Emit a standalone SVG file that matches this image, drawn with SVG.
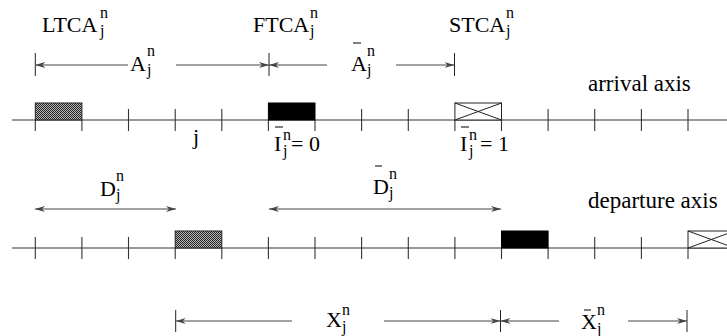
<svg xmlns="http://www.w3.org/2000/svg" width="727" height="336" viewBox="0 0 727 336">
<style>
text{font-family:"Liberation Serif","Times New Roman",serif;fill:#000}
.m{font-size:22px}
.ax{font-size:23px}
.s{font-size:16px}
.axis{stroke:#333;stroke-width:1.2;fill:none}
.tk{stroke:#333;stroke-width:1.1}
.bar{stroke:#222;stroke-width:1}
.ar{stroke:#444;stroke-width:1;fill:none;marker-end:url(#ah)}
.ar2{stroke:#444;stroke-width:1;fill:none;marker-end:url(#ah);marker-start:url(#ah)}
.ob{stroke:#000;stroke-width:1}
.hat{fill:url(#hp);stroke:#222;stroke-width:1}
.blk{fill:#000;stroke:#000;stroke-width:1}
.crs{fill:#fff;stroke:#222;stroke-width:1}
</style>
<defs>
<pattern id="hp" width="2" height="2" patternUnits="userSpaceOnUse">
<rect width="2" height="2" fill="#bbb"/>
<rect width="1" height="1" fill="#222"/>
<rect x="1" y="1" width="1" height="1" fill="#222"/>
</pattern>
<marker id="ah" viewBox="0 0 10 6" refX="10" refY="3" markerWidth="10" markerHeight="6" markerUnits="userSpaceOnUse" orient="auto-start-reverse">
<path d="M0,0 L10,3 L0,6 L3,3 z" fill="#444"/>
</marker>
</defs>

<g id="arrival-axis">
<line class="axis" x1="12" y1="120" x2="727" y2="120"/>
<g class="tk">
<line x1="128.5" y1="109" x2="128.5" y2="131"/>
<line x1="175.2" y1="109" x2="175.2" y2="131"/>
<line x1="221.8" y1="109" x2="221.8" y2="131"/>
<line x1="361.6" y1="109" x2="361.6" y2="131"/>
<line x1="408.3" y1="109" x2="408.3" y2="131"/>
<line x1="548.1" y1="109" x2="548.1" y2="131"/>
<line x1="594.7" y1="109" x2="594.7" y2="131"/>
<line x1="641.4" y1="109" x2="641.4" y2="131"/>
<line x1="688" y1="109" x2="688" y2="131"/>
<line x1="35.3" y1="120" x2="35.3" y2="131"/>
<line x1="81.9" y1="120" x2="81.9" y2="131"/>
<line x1="268.4" y1="120" x2="268.4" y2="131"/>
<line x1="315" y1="120" x2="315" y2="131"/>
<line x1="454.9" y1="120" x2="454.9" y2="131"/>
<line x1="501.5" y1="120" x2="501.5" y2="131"/>
</g>
<text class="ax" x="588" y="91">arrival axis</text>
<text class="m" x="193" y="144">j</text>
</g>

<g id="departure-axis">
<line class="axis" x1="12" y1="248" x2="727" y2="248"/>
<g class="tk">
<line x1="35.3" y1="237" x2="35.3" y2="259"/>
<line x1="81.9" y1="237" x2="81.9" y2="259"/>
<line x1="128.5" y1="237" x2="128.5" y2="259"/>
<line x1="268.4" y1="237" x2="268.4" y2="259"/>
<line x1="315" y1="237" x2="315" y2="259"/>
<line x1="361.6" y1="237" x2="361.6" y2="259"/>
<line x1="408.3" y1="237" x2="408.3" y2="259"/>
<line x1="454.9" y1="237" x2="454.9" y2="259"/>
<line x1="594.7" y1="237" x2="594.7" y2="259"/>
<line x1="641.4" y1="237" x2="641.4" y2="259"/>
<line x1="175.2" y1="248" x2="175.2" y2="259"/>
<line x1="221.8" y1="248" x2="221.8" y2="259"/>
<line x1="501.5" y1="248" x2="501.5" y2="259"/>
<line x1="548.1" y1="248" x2="548.1" y2="259"/>
<line x1="688" y1="248" x2="688" y2="259"/>
</g>
<text class="ax" x="588" y="208">departure axis</text>
</g>

<g id="ltca-arrival">
<rect class="hat" x="35.3" y="103" width="46.6" height="17"/>
<text class="m" x="42" y="32">LTCA<tspan class="s" x="100" y="17.5">n</tspan><tspan class="s" x="100" y="36">j</tspan></text>
</g>
<g id="ftca-arrival">
<rect class="blk" x="268.4" y="103" width="46.6" height="17"/>
<text class="m" x="253" y="32">FTCA<tspan class="s" x="310" y="17.5">n</tspan><tspan class="s" x="310" y="36">j</tspan></text>
<text class="m" x="274" y="151">I<tspan class="s" x="283" y="140">n</tspan><tspan class="s" x="283" y="156">j</tspan><tspan x="291" y="151">= 0</tspan></text>
<line class="ob" x1="275" y1="127" x2="283" y2="127"/>
</g>
<g id="stca-arrival">
<rect class="crs" x="454.9" y="103" width="46.6" height="17"/>
<path class="crs" d="M454.9,103 L501.5,120 M454.9,120 L501.5,103" fill="none"/>
<text class="m" x="449" y="32">STCA<tspan class="s" x="506" y="17.5">n</tspan><tspan class="s" x="506" y="36">j</tspan></text>
<text class="m" x="460" y="151">I<tspan class="s" x="469" y="140">n</tspan><tspan class="s" x="469" y="156">j</tspan><tspan x="480" y="151">= 1</tspan></text>
<line class="ob" x1="461" y1="127" x2="469" y2="127"/>
</g>

<g id="ltca-departure">
<rect class="hat" x="175.2" y="231" width="46.6" height="17"/>
</g>
<g id="ftca-departure">
<rect class="blk" x="501.5" y="231" width="46.6" height="17"/>
</g>
<g id="stca-departure">
<rect class="crs" x="688" y="231" width="46.6" height="17"/>
<path class="crs" d="M688,231 L734.6,248 M688,248 L734.6,231" fill="none"/>
</g>

<g id="connectors">
<g class="bar">
<line x1="35.3" y1="53" x2="35.3" y2="76"/>
<line x1="269" y1="53" x2="269" y2="76"/>
<line x1="454.5" y1="53" x2="454.5" y2="76"/>
<line x1="175.7" y1="310" x2="175.7" y2="332"/>
<line x1="500.5" y1="310" x2="500.5" y2="332"/>
<line x1="687" y1="310" x2="687" y2="332"/>
</g>
<line class="ar" x1="128" y1="65" x2="35.3" y2="65"/>
<line class="ar" x1="176" y1="65" x2="269" y2="65"/>
<line class="ar" x1="327" y1="65" x2="269" y2="65"/>
<line class="ar" x1="396" y1="65" x2="454.5" y2="65"/>
<line class="ar2" x1="35" y1="209" x2="176" y2="209"/>
<line class="ar2" x1="269" y1="209" x2="501" y2="209"/>
<line class="ar" x1="292" y1="321" x2="175.7" y2="321"/>
<line class="ar" x1="384" y1="321" x2="500.5" y2="321"/>
<line class="ar" x1="559" y1="321" x2="500.5" y2="321"/>
<line class="ar" x1="628" y1="321" x2="687" y2="321"/>
</g>

<g id="labels">
<text class="m" x="130" y="71">A<tspan class="s" x="147" y="56">n</tspan><tspan class="s" x="147" y="75">j</tspan></text>
<text class="m" x="351" y="71">A<tspan class="s" x="367" y="56">n</tspan><tspan class="s" x="367" y="75">j</tspan></text>
<line class="ob" x1="353" y1="43" x2="361" y2="43"/>
<text class="m" x="100" y="196">D<tspan class="s" x="116" y="181">n</tspan><tspan class="s" x="116" y="200">j</tspan></text>
<text class="m" x="373" y="194">D<tspan class="s" x="389" y="179">n</tspan><tspan class="s" x="389" y="198">j</tspan></text>
<line class="ob" x1="375" y1="166" x2="382" y2="166"/>
<text class="m" x="326" y="327">X<tspan class="s" x="342" y="315">n</tspan><tspan class="s" x="342" y="332">j</tspan></text>
<text class="m" x="581" y="329">X<tspan class="s" x="597" y="315">n</tspan><tspan class="s" x="597" y="334">j</tspan></text>
<line class="ob" x1="584" y1="310" x2="591" y2="310"/>
</g>
</svg>
